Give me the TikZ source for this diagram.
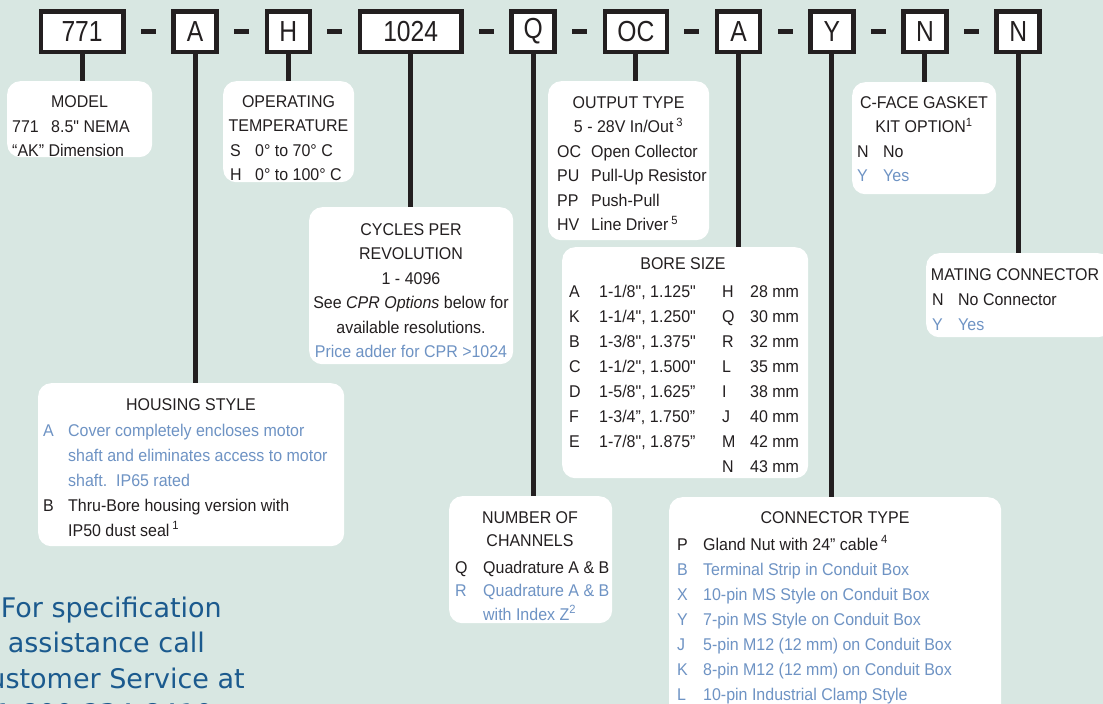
\documentclass[tikz,border=0pt]{standalone}
\usepackage{fontspec}
\setmainfont{Liberation Sans}[FakeStretch=0.94]
\newfontfamily\partfont{Liberation Sans}[FakeStretch=0.94]
\newfontfamily\codefont{Liberation Sans}[FakeStretch=0.85]
\newfontfamily\callfont{DejaVu Sans}
\usepackage{tikz}
\usetikzlibrary{positioning}

\definecolor{ink}{HTML}{231F20}
\definecolor{optblue}{HTML}{6E93C4}
\definecolor{callblue}{HTML}{1B5A8E}
\definecolor{panel}{HTML}{D8E7E2}
\newcommand{\blu}{\leavevmode\color{optblue}}
\newcommand{\stack}[1]{\begin{tabular}[t]{@{}c@{}}#1\end{tabular}}

\begin{document}
\begin{tikzpicture}[x=1pt, y=-1pt,
    node distance=15.15pt,
    codebox/.style={draw=ink, line width=4.5pt, fill=white, minimum height=40.5pt, minimum width=43pt, inner sep=0pt, text=ink, font=\codefont\fontsize{29}{31}\selectfont},
    dashbar/.style={fill=ink, minimum width=15pt, minimum height=4.5pt, inner sep=0pt},
    stem/.style={draw=ink, line width=5pt},
    infobox/.style={fill=white, rounded corners=13pt, anchor=north west, inner sep=0pt},
    head/.style={anchor=base, inner sep=0pt, text=ink, font=\partfont\fontsize{17}{24.5}\selectfont},
    body/.style={anchor=base west, inner sep=0pt, text=ink, font=\partfont\fontsize{17}{24.5}\selectfont},
    callline/.style={anchor=base east, inner sep=0pt, text=callblue, font=\callfont\fontsize{27}{35}\selectfont}
  ]
  \useasboundingbox (0,0) rectangle (1103,704);
  \fill[panel] (0,0) rectangle (1103,704);
  \clip (0,0) rectangle (1103,704);

  % part number fields
  \node[codebox, minimum width=82.5pt] (model) at (82.1,31.5) {771};
  \node[dashbar, right=of model] (d1) {};
  \node[codebox, right=of d1] (housing) {A};
  \node[dashbar, right=of housing] (d2) {};
  \node[codebox, right=of d2] (temp) {H};
  \node[dashbar, right=of temp] (d3) {};
  \node[codebox, minimum width=101.5pt, right=of d3] (cpr) {1024};
  \node[dashbar, right=of cpr] (d4) {};
  \node[codebox, right=of d4] (chan) {Q};
  \node[dashbar, right=of chan] (d5) {};
  \node[codebox, minimum width=62pt, right=of d5] (output) {OC};
  \node[dashbar, right=of output] (d6) {};
  \node[codebox, right=of d6] (bore) {A};
  \node[dashbar, right=of bore] (d7) {};
  \node[codebox, right=of d7] (conn) {Y};
  \node[dashbar, right=of conn] (d8) {};
  \node[codebox, right=of d8] (gasket) {N};
  \node[dashbar, right=of gasket] (d9) {};
  \node[codebox, right=of d9] (mating) {N};

  % option boxes
  \node[infobox, minimum width=145pt, minimum height=76pt] (modelinfo) at (7,81) {};
  \node[infobox, minimum width=131pt, minimum height=101pt] (tempinfo) at (223,81) {};
  \node[infobox, minimum width=161pt, minimum height=159pt] (outputinfo) at (548,81) {};
  \node[infobox, minimum width=144pt, minimum height=112pt] (gasketinfo) at (852,82) {};
  \node[infobox, minimum width=204pt, minimum height=157pt] (cprinfo) at (309,207) {};
  \node[infobox, minimum width=246pt, minimum height=231pt] (boreinfo) at (562,247) {};
  \node[infobox, minimum width=185pt, minimum height=84pt] (matinginfo) at (926,253) {};
  \node[infobox, minimum width=306pt, minimum height=163pt] (housinginfo) at (38,383) {};
  \node[infobox, minimum width=163pt, minimum height=127pt] (chaninfo) at (449,496) {};
  \node[infobox, minimum width=332pt, minimum height=230pt] (conninfo) at (669,497) {};

  \draw[stem] (model.south) -- (model.south |- modelinfo.north);
  \draw[stem] (housing.south) -- (housing.south |- housinginfo.north);
  \draw[stem] (temp.south) -- (temp.south |- tempinfo.north);
  \draw[stem] (cpr.south) -- (cpr.south |- cprinfo.north);
  \draw[stem] (chan.south) -- (chan.south |- chaninfo.north);
  \draw[stem] (output.south) -- (output.south |- outputinfo.north);
  \draw[stem] (bore.south) -- (bore.south |- boreinfo.north);
  \draw[stem] (conn.south) -- (conn.south |- conninfo.north);
  \draw[stem] (gasket.south) -- (gasket.south |- gasketinfo.north);
  \draw[stem] (mating.south) -- (mating.south |- matinginfo.north);

  % texts
  \node[head] (modelhead) at (79.5,107) {MODEL};
  \node[body] (modelbody) at (12,132) {\begin{tabular}[t]{@{}p{39pt}@{}l@{}}
    771 & 8.5" NEMA\\
    \multicolumn{2}{@{}l@{}}{“AK” Dimension}
  \end{tabular}};

  \node[head] (temphead) at (288.5,107) {\stack{OPERATING\\TEMPERATURE}};
  \node[body] (tempbody) at (230,156) {\begin{tabular}[t]{@{}p{25pt}@{}l@{}}
    S & 0° to 70° C\\
    H & 0° to 100° C
  \end{tabular}};

  \node[head] (outputhead) at (628.5,108) {\stack{OUTPUT TYPE\\5 - 28V In/Out\,\textsuperscript{3}}};
  \node[body] (outputbody) at (557,157) {\begin{tabular}[t]{@{}p{34pt}@{}l@{}}
    OC & Open Collector\\
    PU & Pull-Up Resistor\\
    PP & Push-Pull\\
    HV & Line Driver\,\textsuperscript{5}
  \end{tabular}};

  \node[head] (gaskethead) at (924,108) {\stack{C-FACE GASKET\\KIT OPTION\textsuperscript{1}}};
  \node[body] (gasketbody) at (857,157) {\begin{tabular}[t]{@{}p{26pt}@{}l@{}}
    N & No\\
    \blu Y & \blu Yes
  \end{tabular}};

  \node[head] (cprhead) at (411,235) {\stack{CYCLES PER\\REVOLUTION\\1 - 4096\\See \textit{CPR Options} below for\\available resolutions.\\{\blu Price adder for CPR >1024}}};

  \node[head] (borehead) at (683,269) {BORE SIZE};
  \node[body, font=\partfont\fontsize{17}{25}\selectfont] (boreinch) at (569,297) {\begin{tabular}[t]{@{}p{30pt}@{}l@{}}
    A & 1-1/8", 1.125"\\
    K & 1-1/4", 1.250"\\
    B & 1-3/8", 1.375"\\
    C & 1-1/2", 1.500"\\
    D & 1-5/8", 1.625”\\
    F & 1-3/4”, 1.750”\\
    E & 1-7/8", 1.875”
  \end{tabular}};
  \node[body, font=\partfont\fontsize{17}{25}\selectfont] (boremm) at (722,297) {\begin{tabular}[t]{@{}p{28pt}@{}l@{}}
    H & 28 mm\\
    Q & 30 mm\\
    R & 32 mm\\
    L & 35 mm\\
    I & 38 mm\\
    J & 40 mm\\
    M & 42 mm\\
    N & 43 mm
  \end{tabular}};

  \node[head] (matinghead) at (1015,280) {MATING CONNECTOR};
  \node[body, font=\partfont\fontsize{17}{25}\selectfont] (matingbody) at (932,305) {\begin{tabular}[t]{@{}p{26pt}@{}l@{}}
    N & No Connector\\
    \blu Y & \blu Yes
  \end{tabular}};

  \node[head] (housinghead) at (191,410) {HOUSING STYLE};
  \node[body, font=\partfont\fontsize{17}{25}\selectfont] (housingbody) at (43,436) {\begin{tabular}[t]{@{}p{25pt}@{}l@{}}
    \blu A & \blu Cover completely encloses motor\\
    & \blu shaft and eliminates access to motor\\
    & \blu shaft.\ \ IP65 rated\\
    B & Thru-Bore housing version with\\
    & IP50 dust seal\,\textsuperscript{1}
  \end{tabular}};

  \node[head, font=\partfont\fontsize{17}{23.5}\selectfont] (chanhead) at (530,523) {\stack{NUMBER OF\\CHANNELS}};
  \node[body, font=\partfont\fontsize{17}{23.5}\selectfont] (chanbody) at (455,573) {\begin{tabular}[t]{@{}p{28pt}@{}l@{}}
    Q & Quadrature A \& B\\
    \blu R & \blu Quadrature A \& B\\
    & \blu with Index Z\textsuperscript{2}
  \end{tabular}};

  \node[head] (connhead) at (835,523) {CONNECTOR TYPE};
  \node[body, font=\partfont\fontsize{17}{25}\selectfont] (connbody) at (677,550) {\begin{tabular}[t]{@{}p{26pt}@{}l@{}}
    P & Gland Nut with 24” cable\,\textsuperscript{4}\\
    \blu B & \blu Terminal Strip in Conduit Box\\
    \blu X & \blu 10-pin MS Style on Conduit Box\\
    \blu Y & \blu 7-pin MS Style on Conduit Box\\
    \blu J & \blu 5-pin M12 (12 mm) on Conduit Box\\
    \blu K & \blu 8-pin M12 (12 mm) on Conduit Box\\
    \blu L & \blu 10-pin Industrial Clamp Style
  \end{tabular}};

  % help line, cut off at the page edge
  \node[callline] (call1) at (222,617) {For specification};
  \node[callline] (call2) at (205,652) {assistance call};
  \node[callline] (call3) at (245,688) {Customer Service at};
  \node[callline] (call4) at (213,723) {1-800-234-8410};
\end{tikzpicture}
\end{document}
